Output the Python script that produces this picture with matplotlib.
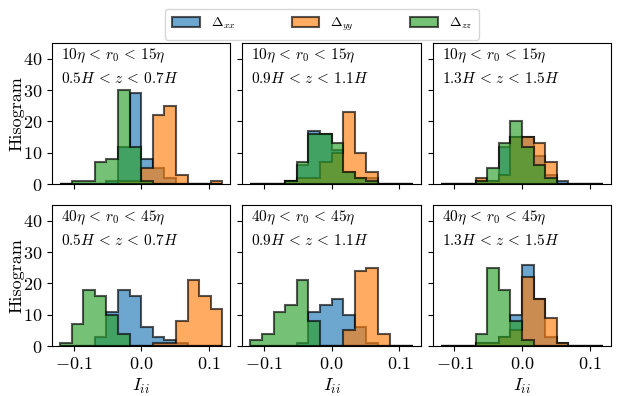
import numpy as np
import matplotlib
matplotlib.use("Agg")
import matplotlib.pyplot as plt

plt.rcParams.update({
    "font.family": "serif",
    "font.serif": ["cmr10"],
    "mathtext.fontset": "cm",
    "axes.formatter.use_mathtext": True,
    "font.size": 13,
})

# 14 bins on [-0.12, 0.12]
bin_edges = np.linspace(-0.12, 0.12, 15)
bin_centers = 0.5 * (bin_edges[:-1] + bin_edges[1:])

# counts per bin, rows: (r0 range) x columns: (z range)
row_labels = [r"$10\eta\, <\, r_0\, <\, 15\eta$", r"$40\eta\, <\, r_0\, <\, 45\eta$"]
col_labels = [r"$0.5H\, <\, z\, <\, 0.7H$", r"$0.9H\, <\, z\, <\, 1.1H$", r"$1.3H\, <\, z\, <\, 1.5H$"]
series_labels = [r"$\Delta_{xx}$", r"$\Delta_{yy}$", r"$\Delta_{zz}$"]

# top row
xx_top_1 = [0, 0, 0, 0, 1, 12, 29, 8, 5, 2, 0, 0, 0, 0]
yy_top_1 = [0, 0, 0, 0, 0, 1, 1, 5, 22, 25, 3, 0, 0, 1]
zz_top_1 = [0, 1, 1, 7, 8, 30, 12, 1, 0, 0, 0, 0, 0, 0]

xx_top_2 = [0, 0, 0, 1, 6, 17, 16, 11, 4, 2, 2, 0, 0, 0]
yy_top_2 = [0, 0, 0, 1, 2, 2, 7, 10, 23, 10, 4, 0, 0, 0]
zz_top_2 = [0, 0, 0, 1, 7, 16, 16, 13, 4, 2, 1, 0, 0, 0]

xx_top_3 = [0, 0, 0, 1, 1, 12, 15, 15, 9, 3, 1, 0, 0, 0]
yy_top_3 = [0, 0, 0, 2, 1, 3, 15, 15, 13, 7, 0, 0, 0, 0]
zz_top_3 = [0, 0, 0, 1, 5, 13, 20, 12, 6, 2, 0, 0, 0, 0]

# bottom row
xx_bot_1 = [0, 0, 0, 3, 11, 18, 16, 6, 3, 2, 1, 0, 0, 0]
yy_bot_1 = [0, 0, 0, 0, 0, 0, 0, 0, 1, 1, 8, 21, 16, 12]
zz_bot_1 = [1, 7, 18, 16, 10, 4, 0, 0, 0, 0, 0, 0, 0, 0]

xx_bot_2 = [0, 0, 0, 0, 1, 11, 13, 15, 10, 6, 1, 0, 0, 0]
yy_bot_2 = [0, 0, 0, 0, 0, 0, 0, 0, 5, 24, 25, 4, 0, 0]
zz_bot_2 = [2, 4, 11, 13, 21, 8, 0, 0, 0, 0, 0, 0, 0, 0]

xx_bot_3 = [0, 0, 0, 1, 1, 3, 10, 26, 15, 3, 1, 0, 0, 0]
yy_bot_3 = [0, 0, 0, 1, 1, 3, 5, 22, 15, 9, 1, 0, 0, 0]
zz_bot_3 = [0, 0, 0, 4, 25, 18, 8, 2, 0, 0, 0, 0, 0, 0]

panels = [
    [(xx_top_1, yy_top_1, zz_top_1), (xx_top_2, yy_top_2, zz_top_2), (xx_top_3, yy_top_3, zz_top_3)],
    [(xx_bot_1, yy_bot_1, zz_bot_1), (xx_bot_2, yy_bot_2, zz_bot_2), (xx_bot_3, yy_bot_3, zz_bot_3)],
]
colors = ["tab:blue", "tab:orange", "tab:green"]

fig, axes = plt.subplots(2, 3, figsize=(6.23, 3.96), dpi=100, sharex=True, sharey=True)
fig.subplots_adjust(left=0.0835, right=0.981, top=0.891, bottom=0.126, wspace=0.067, hspace=0.149)

for i in range(2):
    for j in range(3):
        ax = axes[i, j]
        for k, counts in enumerate(panels[i][j]):
            ax.hist(bin_centers, bins=bin_edges, weights=counts, histtype="stepfilled",
                    color=colors[k], edgecolor="k", linewidth=1.5, alpha=0.65,
                    label=series_labels[k])
        ax.text(0.05, 0.975, row_labels[i] + "\n" + col_labels[j], transform=ax.transAxes,
                va="top", ha="left", linespacing=1.5, fontsize=11)
        if j == 0:
            ax.set_ylabel("Hisogram", labelpad=-1)
        if i == 1:
            ax.set_xlabel(r"$I_{ii}$")

axes[0, 0].set_ylim(0, 45)
axes[0, 0].set_yticks([0, 10, 20, 30, 40])
axes[0, 0].set_xticks([-0.1, 0.0, 0.1])

handles, labels = axes[0, 0].get_legend_handles_labels()
fig.legend(handles, labels, loc="upper center", ncol=3, bbox_to_anchor=(0.517, 0.978),
           borderaxespad=0, columnspacing=4.0, fontsize=10, borderpad=0.5)

fig.savefig("out.png", dpi=100)
